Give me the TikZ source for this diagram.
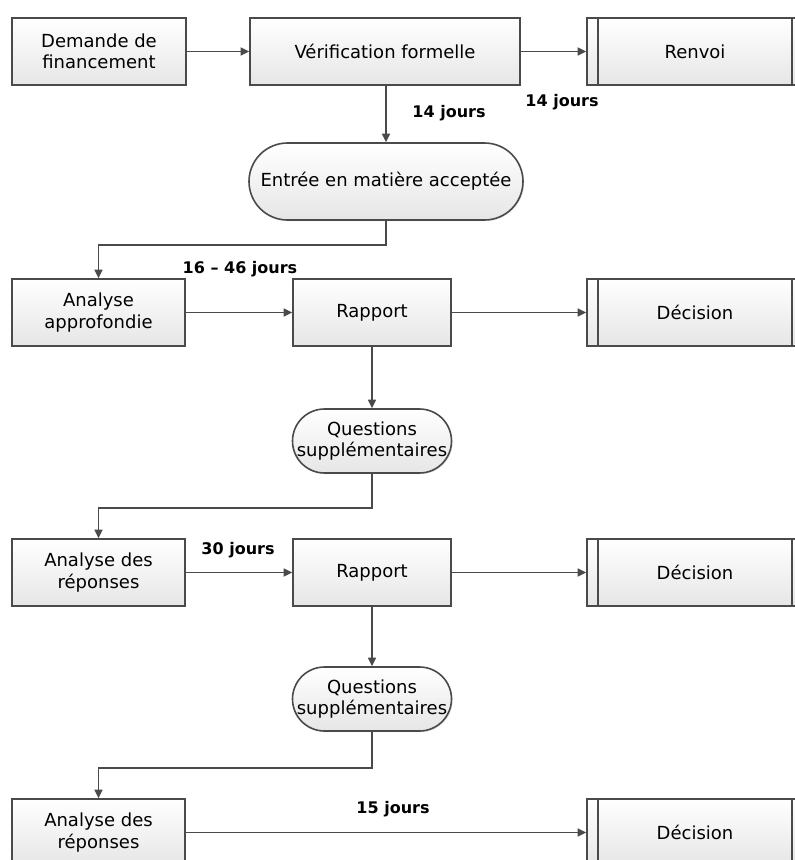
\documentclass[tikz,border=0pt]{standalone}
\usepackage{fontspec}
\setmainfont{DejaVu Sans}
\usetikzlibrary{arrows.meta,shadows}
\definecolor{boxline}{HTML}{4A4A4A}
\definecolor{boxfill}{HTML}{E6E6E6}

\begin{document}
\begin{tikzpicture}[x=1pt,y=-1pt,
	box/.style={draw=boxline,line width=1.6pt,top color=white,bottom color=boxfill,inner sep=0pt,align=center,
		font=\fontsize{18}{21.5}\selectfont,drop shadow={shadow xshift=1.2pt,shadow yshift=-1.2pt,opacity=0.2}},
	procbox/.style={box,minimum width=216pt,minimum height=67pt,
		path picture={\draw[boxline,line width=1.6pt] ([xshift=11pt]path picture bounding box.north west) -- ([xshift=11pt]path picture bounding box.south west)
			([xshift=-11pt]path picture bounding box.north east) -- ([xshift=-11pt]path picture bounding box.south east);}},
	oval/.style={box,rounded corners=#1},
	arr/.style={draw=boxline,line width=1.6pt,-{Triangle[length=8.5pt,width=8pt]}},
	lbl/.style={inner sep=0pt,font=\bfseries\fontsize{16}{19}\selectfont}]
	\useasboundingbox (0,0) rectangle (795,860);
	\clip (0,0) rectangle (795,860);
	%% first row
	\node[box,minimum width=174pt,minimum height=67pt] (demande) at (99,51.5) {Demande de\\financement};
	\node[box,minimum width=270pt,minimum height=67pt] (verif) at (385,51.5) {Vérification formelle};
	\node[procbox] (renvoi) at (695,51.5) {Renvoi};
	\node[oval=38.5pt,minimum width=274pt,minimum height=77pt] (entree) at (386,181.5) {Entrée en matière acceptée};
	%% second row
	\node[box,minimum width=173pt,minimum height=67pt] (analyse1) at (98.5,312.5) {Analyse\\approfondie};
	\node[box,minimum width=158pt,minimum height=67pt] (rapport1) at (372,312.5) {Rapport};
	\node[procbox] (decision1) at (695,312.5) {Décision};
	\node[oval=32pt,minimum width=159pt,minimum height=64pt] (questions1) at (372,441) {Questions\\supplémentaires};
	%% third row
	\node[box,minimum width=173pt,minimum height=67pt] (analyse2) at (98.5,572.5) {Analyse des\\réponses};
	\node[box,minimum width=158pt,minimum height=67pt] (rapport2) at (372,572.5) {Rapport};
	\node[procbox] (decision2) at (695,572.5) {Décision};
	\node[oval=32pt,minimum width=159pt,minimum height=64pt] (questions2) at (372,699) {Questions\\supplémentaires};
	%% last row
	\node[box,minimum width=173pt,minimum height=67pt] (analyse3) at (98.5,832.5) {Analyse des\\réponses};
	\node[procbox] (decision3) at (695,832.5) {Décision};

	\draw[arr] (demande) -- (verif);
	\draw[arr] (verif) -- (renvoi);
	\draw[arr] (verif.south -| entree.north) -- (entree);
	\draw[arr] (entree.south) -- ++(0,24) -| (analyse1.north);
	\draw[arr] (analyse1) -- (rapport1);
	\draw[arr] (rapport1) -- (decision1);
	\draw[arr] (rapport1) -- (questions1);
	\draw[arr] (questions1.south) -- ++(0,34) -| (analyse2.north);
	\draw[arr] (analyse2) -- (rapport2);
	\draw[arr] (rapport2) -- (decision2);
	\draw[arr] (rapport2) -- (questions2);
	\draw[arr] (questions2.south) -- ++(0,36) -| (analyse3.north);
	\draw[arr] (analyse3) -- (decision3);

	\node[lbl] (d14a) at (449,113) {14 jours};
	\node[lbl] (d14b) at (562,102) {14 jours};
	\node[lbl] (d16) at (240,269) {16 – 46 jours};
	\node[lbl] (d30) at (238,550) {30 jours};
	\node[lbl] (d15) at (393,809) {15 jours};
\end{tikzpicture}
\end{document}
